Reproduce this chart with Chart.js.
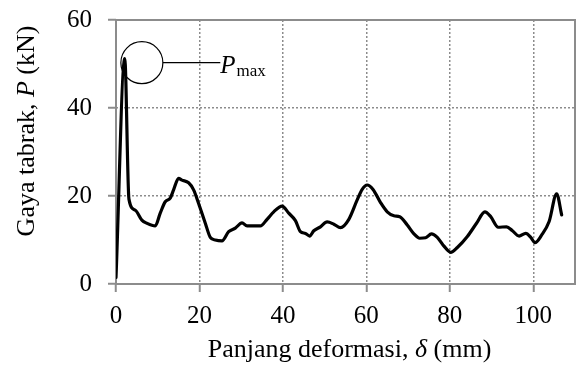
<!DOCTYPE html>
<html>
<head>
<meta charset="utf-8">
<script src="https://cdn.jsdelivr.net/npm/chart.js@4/dist/chart.umd.min.js"></script>
<style>
  body { margin: 0; background: #fff; }
  #wrap { width: 586px; height: 365px; }
</style>
</head>
<body>
<div id="wrap"><canvas id="gaya-chart" width="586" height="365"></canvas></div>
<script>
// deformasi (mm) vs gaya tabrak (kN)
const deformasi = [
  0, 2.1, 3.1, 4.6, 6.2, 7.4, 9.4, 10.6, 11.8, 13.0, 13.8, 15.0, 15.8, 17.4, 18.6, 19.8,
  21.4, 22.6, 23.8, 25.4, 27.0, 28.6, 30.2, 31.4, 34.6, 36.2, 37.8, 39.8, 41.4, 43.0,
  44.2, 45.4, 46.4, 47.4, 49.0, 50.6, 52.2, 53.8, 55.8, 57.8, 59.0, 60.2, 61.6, 63.4,
  65.0, 66.6, 68.0, 69.8, 71.4, 72.8, 74.2, 75.6, 77.0, 78.6, 80.2, 81.8, 84.2, 86.4,
  88.4, 89.8, 91.6, 93.6, 95.0, 96.6, 98.2, 99.4, 100.4, 102.0, 103.8, 105.6, 106.8
];
const gaya = [
  1.5, 51.2, 19.3, 16.8, 14.5, 13.8, 13.2, 16.1, 18.7, 19.5, 21.4, 24.0, 23.6, 23.0, 21.4, 18.3,
  13.8, 10.6, 10.0, 9.8, 11.9, 12.7, 13.9, 13.2, 13.2, 14.7, 16.4, 17.7, 16.1, 14.4,
  11.9, 11.5, 10.9, 12.1, 13.0, 14.1, 13.6, 12.8, 14.7, 19.1, 21.5, 22.5, 21.5, 18.5,
  16.4, 15.5, 15.3, 13.4, 11.4, 10.4, 10.5, 11.4, 10.6, 8.6, 7.2, 8.3, 10.8, 13.8,
  16.4, 15.3, 12.9, 13.0, 12.1, 10.9, 11.5, 10.6, 9.4, 11.1, 14.2, 20.5, 15.7
];
const xTicks = [0, 20, 40, 60, 80, 100];
const yTicks = [0, 20, 40, 60];

const xTitle = [['Panjang deformasi, ', ''], ['\u03b4', 'italic '], [' (mm)', '']];
const yTitle = [['Gaya tabrak, ', ''], ['P', 'italic '], [' (kN)', '']];
const pmaxAt = { x: 6.2, y: 50.3 };   // centre of the circle round the peak
const pmaxLineTo = 25;                  // x where the leader line ends

const FONT = "'Liberation Serif', 'Times New Roman', serif";
const GREY = '#8c8c8c';

function drawRich(ctx, parts, size) {
  let total = 0;
  parts.forEach(p => { ctx.font = p[1] + size + 'px ' + FONT; total += ctx.measureText(p[0]).width; });
  let x = -total / 2;
  parts.forEach(p => {
    ctx.font = p[1] + size + 'px ' + FONT;
    ctx.fillText(p[0], x, 0);
    x += ctx.measureText(p[0]).width;
  });
}

const extras = {
  id: 'extras',
  beforeDatasetsDraw(chart) {
    const { ctx, chartArea: a } = chart;
    ctx.save();
    ctx.strokeStyle = GREY;
    ctx.lineWidth = 2;
    ctx.strokeRect(a.left, a.top, a.right - a.left, a.bottom - a.top);
    ctx.restore();
  },
  afterDraw(chart) {
    const { ctx, chartArea: a, scales } = chart;
    ctx.save();
    ctx.fillStyle = '#000';
    ctx.textBaseline = 'alphabetic';
    ctx.textAlign = 'left';

    // x title
    ctx.save();
    ctx.translate((a.left + a.right) / 2 + 4, 357);
    drawRich(ctx, xTitle, 26);
    ctx.restore();

    // y title
    ctx.save();
    ctx.translate(34, 131);
    ctx.rotate(-Math.PI / 2);
    drawRich(ctx, yTitle, 26);
    ctx.restore();

    // P max annotation
    const cx = scales.x.getPixelForValue(pmaxAt.x);
    const cy = scales.y.getPixelForValue(pmaxAt.y);
    const r = 21;
    const ex = scales.x.getPixelForValue(pmaxLineTo);
    ctx.strokeStyle = '#000';
    ctx.lineWidth = 1.2;
    ctx.beginPath();
    ctx.arc(cx, cy, r, 0, Math.PI * 2);
    ctx.stroke();
    ctx.beginPath();
    ctx.moveTo(cx + r, cy);
    ctx.lineTo(ex, cy);
    ctx.stroke();
    ctx.font = 'italic 25px ' + FONT;
    ctx.fillText('P', ex, cy + 10);
    const pw = ctx.measureText('P').width;
    ctx.font = '17px ' + FONT;
    ctx.fillText('max', ex + pw + 1, cy + 13);
    ctx.restore();
  }
};

const config = {
  type: 'line',
  data: {
    datasets: [{
      data: deformasi.map((d, i) => ({ x: d, y: gaya[i] })),
      borderColor: '#000',
      borderWidth: 3.2,
      pointRadius: 0,
      cubicInterpolationMode: 'monotone',
      borderJoinStyle: 'round',
      borderCapStyle: 'round',
      fill: false
    }]
  },
  options: {
    responsive: false,
    animation: false,
    devicePixelRatio: 1,
    layout: { padding: { top: 20, right: 11, left: 0, bottom: 0 } },
    plugins: { legend: { display: false }, tooltip: { enabled: false } },
    scales: {
      x: {
        type: 'linear',
        min: 0,
        max: 110,
        afterBuildTicks: s => { s.ticks = xTicks.map(v => ({ value: v })); },
        afterFit: s => { s.height = 81; s.paddingLeft = 0; s.paddingRight = 0; },
        ticks: { color: '#000', font: { family: FONT, size: 25 }, padding: 9, maxRotation: 0 },
        grid: { color: GREY, lineWidth: 1.5, tickLength: 8, tickBorderDash: [], tickColor: GREY, tickWidth: 2 },
        border: { display: false, dash: [2, 2] }
      },
      y: {
        min: 0,
        max: 60,
        afterBuildTicks: s => { s.ticks = yTicks.map(v => ({ value: v })); },
        afterFit: s => { s.width = 116; s.paddingTop = 0; s.paddingBottom = 0; },
        ticks: { color: '#000', font: { family: FONT, size: 25 }, padding: 16 },
        grid: { color: GREY, lineWidth: 1.5, tickLength: 8, tickBorderDash: [], tickColor: GREY, tickWidth: 2 },
        border: { display: false, dash: [2, 2] }
      }
    }
  },
  plugins: [extras]
};

const myChart = new Chart(document.getElementById('gaya-chart'), config);
</script>
</body>
</html>
